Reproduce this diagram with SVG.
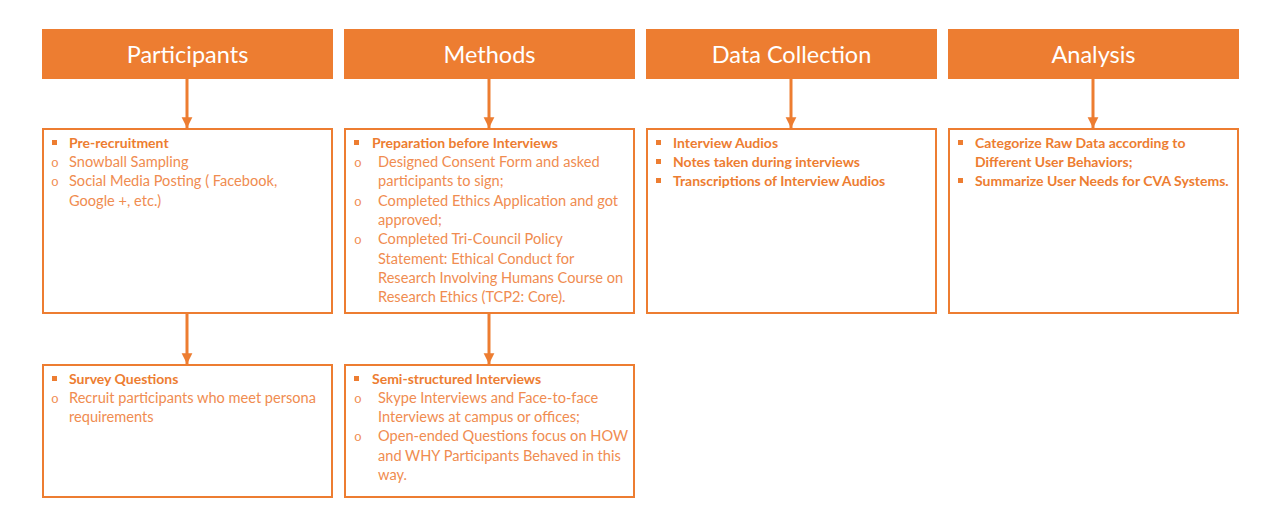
<svg xmlns="http://www.w3.org/2000/svg" width="1280" height="528" viewBox="0 0 1280 528">
<style>
.hdr{fill:#ED7D31}
.htx{fill:#fff;font-family:Lato,"Open Sans",sans-serif;font-size:23.5px;text-anchor:middle}
.box{fill:#fff;stroke:#ED7D31;stroke-width:2}
.b{fill:#ED7D31;font-family:Lato,"Open Sans",sans-serif;font-size:14px;font-weight:bold}
.r{fill:#F08C50;font-family:Lato,"Open Sans",sans-serif;font-size:14.6px}
.o{fill:#F08C50;font-family:"Liberation Mono",monospace;font-size:13px}
.sq{fill:#ED7D31}
.con{stroke:#ED7D31;stroke-width:3;fill:none;marker-end:url(#ah)}
</style>
<defs>
<marker id="ah" viewBox="0 0 10 10" refX="10" refY="5" markerWidth="3.6" markerHeight="4.6" markerUnits="strokeWidth" orient="auto">
<path d="M0,0 L10,5 L0,10 z" fill="#ED7D31"/>
</marker>
</defs>
<rect width="1280" height="528" fill="#fff"/>
<g id="connectors">
<line class="con" x1="187" y1="79" x2="187" y2="128"/>
<line class="con" x1="489" y1="79" x2="489" y2="128"/>
<line class="con" x1="791" y1="79" x2="791" y2="128"/>
<line class="con" x1="1093" y1="79" x2="1093" y2="128"/>
<line class="con" x1="187" y1="314" x2="187" y2="364"/>
<line class="con" x1="489" y1="314" x2="489" y2="364"/>
</g>
<g id="h-participants"><rect class="hdr" x="42" y="29" width="291" height="50"/><text class="htx" x="187.5" y="62.5">Participants</text></g>
<g id="h-methods"><rect class="hdr" x="344" y="29" width="291" height="50"/><text class="htx" x="489.5" y="62.5">Methods</text></g>
<g id="h-data"><rect class="hdr" x="646" y="29" width="291" height="50"/><text class="htx" x="791.5" y="62.5">Data Collection</text></g>
<g id="h-analysis"><rect class="hdr" x="948" y="29" width="291" height="50"/><text class="htx" x="1093.5" y="62.5">Analysis</text></g>
<g id="n-participants1">
<rect class="box" x="43" y="129" width="289" height="184"/>
<rect class="sq" x="52" y="140" width="5" height="5"/>
<text class="b" x="69" y="148">Pre-recruitment</text>
<text class="o" x="51" y="167">o</text><text class="r" x="69" y="167">Snowball Sampling</text>
<text class="o" x="51" y="186">o</text><text class="r" x="69" y="186">Social Media Posting ( Facebook,</text>
<text class="r" x="69" y="206">Google +, etc.)</text>
</g>
<g id="n-methods1">
<rect class="box" x="345" y="129" width="289" height="184"/>
<rect class="sq" x="354" y="140" width="5" height="5"/>
<text class="b" x="372" y="148">Preparation before Interviews</text>
<text class="o" x="354" y="167">o</text><text class="r" x="378" y="167">Designed Consent Form and asked</text>
<text class="r" x="378" y="186">participants to sign;</text>
<text class="o" x="354" y="206">o</text><text class="r" x="378" y="206">Completed Ethics Application and got</text>
<text class="r" x="378" y="225">approved;</text>
<text class="o" x="354" y="244">o</text><text class="r" x="378" y="244">Completed Tri-Council Policy</text>
<text class="r" x="378" y="264">Statement: Ethical Conduct for</text>
<text class="r" x="378" y="283">Research Involving Humans Course on</text>
<text class="r" x="378" y="302">Research Ethics (TCP2: Core).</text>
</g>
<g id="n-data">
<rect class="box" x="647" y="129" width="289" height="184"/>
<rect class="sq" x="656" y="140" width="5" height="5"/><text class="b" x="673" y="148">Interview Audios</text>
<rect class="sq" x="656" y="159" width="5" height="5"/><text class="b" x="673" y="167">Notes taken during interviews</text>
<rect class="sq" x="656" y="178" width="5" height="5"/><text class="b" x="673" y="186">Transcriptions of Interview Audios</text>
</g>
<g id="n-analysis">
<rect class="box" x="949" y="129" width="289" height="184"/>
<rect class="sq" x="958" y="140" width="5" height="5"/><text class="b" x="975" y="148">Categorize Raw Data according to</text>
<text class="b" x="975" y="167">Different User Behaviors;</text>
<rect class="sq" x="958" y="178" width="5" height="5"/><text class="b" x="975" y="186">Summarize User Needs for CVA Systems.</text>
</g>
<g id="n-participants2">
<rect class="box" x="43" y="365" width="289" height="132"/>
<rect class="sq" x="52" y="376" width="5" height="5"/>
<text class="b" x="69" y="384">Survey Questions</text>
<text class="o" x="51" y="403">o</text><text class="r" x="69" y="403">Recruit participants who meet persona</text>
<text class="r" x="69" y="422">requirements</text>
</g>
<g id="n-methods2">
<rect class="box" x="345" y="365" width="289" height="132"/>
<rect class="sq" x="354" y="376" width="5" height="5"/>
<text class="b" x="372" y="384">Semi-structured Interviews</text>
<text class="o" x="354" y="403">o</text><text class="r" x="378" y="403">Skype Interviews and Face-to-face</text>
<text class="r" x="378" y="422">Interviews at campus or offices;</text>
<text class="o" x="354" y="441">o</text><text class="r" x="378" y="441">Open-ended Questions focus on HOW</text>
<text class="r" x="378" y="461">and WHY Participants Behaved in this</text>
<text class="r" x="378" y="480">way.</text>
</g>
</svg>
